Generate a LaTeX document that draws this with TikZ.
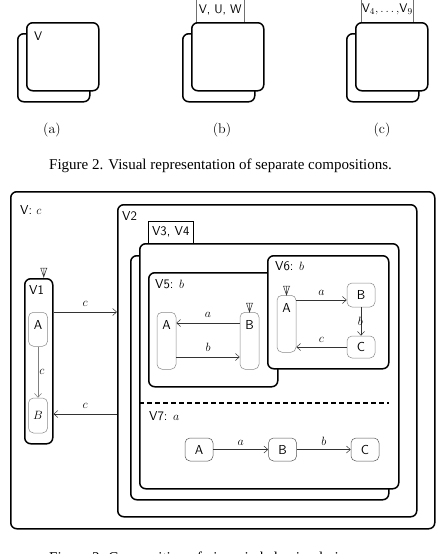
\documentclass[tikz,border=0pt]{standalone}
\usepackage{fontspec}
\newfontfamily\capfont{Liberation Serif}
\usetikzlibrary{arrows.meta, positioning, calc}
\definecolor{edgeA}{HTML}{333333}
\definecolor{stateA}{HTML}{8A8A8A}
\definecolor{stateB}{HTML}{555555}
\definecolor{tabA}{HTML}{707070}
\tikzset{
  view/.style={
    draw, fill=white, line width=1.5pt, rounded corners=6pt,
    anchor=north west, inner sep=0pt
  },
  state/.style={
    draw=stateA, fill=white, line width=0.5pt, rounded corners=5pt,
    inner sep=0pt, font=\sffamily\fontsize{13}{15}\selectfont
  },
  tallstate/.style={state, anchor=north, inner ysep=3pt, text height=14pt, text depth=#1},
  tab/.style={
    draw=tabA, line width=0.5pt, inner sep=0pt, anchor=south west,
    font=\sffamily\fontsize{12.5}{14}\selectfont
  },
  vlabel/.style={anchor=base west, inner sep=0pt, font=\sffamily\fontsize{13}{15}\selectfont},
  trans/.style={-{Straight Barb[length=4pt,width=7pt]}, line width=0.5pt, draw=edgeA},
  ev/.style={inner sep=1pt, font=\fontsize{13}{15}\selectfont},
  sep/.style={line width=2pt, dash pattern=on 5pt off 3pt},
  caption/.style={anchor=base west, inner sep=0pt, font=\capfont\fontsize{15}{18}\selectfont}
}
% initial marker: bar + open head ending at #1
\newcommand{\initmark}[1]{%
  \draw[line width=0.5pt, draw=edgeA] ($(#1)+(-3.5,-9)$) -- ($(#1)+(3.5,-9)$)
    ($(#1)+(0,-9)$) -- (#1)
    ($(#1)+(-3,-9)$) -- (#1) -- ($(#1)+(3,-9)$);}

\begin{document}
\begin{tikzpicture}[x=1pt, y=-1pt]
  \useasboundingbox (0,0) rectangle (436,554);

  % Figure 2: three separate compositions
  \node[view, minimum width=72pt, minimum height=68pt] (aback) at (17,33) {};
  \node[view, minimum width=72pt, minimum height=68pt] (afront) at (26,22) {};
  \node[vlabel, font=\sffamily\fontsize{12.5}{14}\selectfont] (alab) at (34,40) {V};

  \node[view, minimum width=72pt, minimum height=68pt] (bback) at (182,33) {};
  \node[tab, minimum width=48pt, minimum height=24pt] (btab) at (196,22) {V, U, W};
  \node[view, minimum width=72pt, minimum height=68pt] (bfront) at (191,22) {};

  \node[view, minimum width=72pt, minimum height=68pt] (cback) at (346,33) {};
  \node[tab, minimum width=52pt, minimum height=24pt] (ctab) at (361,22) {V$_4,\ldots,$V$_9$};
  \node[view, minimum width=72pt, minimum height=68pt] (cfront) at (355,22) {};

  \node[font=\fontsize{14}{16}\selectfont] (capa) at (52,130) {(a)};
  \node[font=\fontsize{14}{16}\selectfont] (capb) at (222,130) {(b)};
  \node[font=\fontsize{14}{16}\selectfont] (capc) at (382,130) {(c)};

  \node[caption] (fig2) at (49,169.5) {Figure 2. Visual representation of separate compositions.};

  % Figure 3: composition of views
  \node[view, minimum width=424pt, minimum height=337pt] (v) at (10,191) {};
  \node[vlabel] (vlab) at (20,214) {V: $c$};

  \node[view, minimum width=299pt, minimum height=312pt] (v2) at (117,204) {};
  \node[vlabel] (v2lab) at (122,220) {V2};

  \node[view, minimum width=258pt, minimum height=244pt] (v34back) at (130,255) {};
  \node[tab, draw=black, font=\sffamily\fontsize{13}{15}\selectfont,
    minimum width=45pt, minimum height=22pt] (v34tab) at (148,243) {V3, V4};
  \node[view, minimum width=259pt, minimum height=245pt] (v34) at (139,243) {};

  \node[view, minimum width=129pt, minimum height=114pt] (v5) at (148,272) {};
  \node[vlabel] (v5lab) at (155,288) {V5: $b$};
  \node[tallstate=37pt, minimum width=19pt] (v5a) at (166.5,312) {A};
  \node[tallstate=37pt, minimum width=19pt] (v5b) at (249.5,312) {B};

  \node[view, minimum width=121pt, minimum height=113pt] (v6) at (267,255) {};
  \node[vlabel] (v6lab) at (275,270) {V6: $b$};
  \node[tallstate=37pt, minimum width=19pt] (v6a) at (286.5,295) {A};
  \node[state, minimum width=28pt, minimum height=24pt] (v6b) at (361,295) {B};
  \node[state, minimum width=28pt, minimum height=22pt] (v6c) at (361,347) {C};

  \draw[sep] (139,403) -- (389,403);
  \node[vlabel] (v7lab) at (149,420) {V7: $a$};
  \node[state, draw=stateB, minimum width=28pt, minimum height=23pt] (v7a) at (199,449.5) {A};
  \node[state, draw=stateB, minimum width=28pt, minimum height=23pt] (v7b) at (282.5,449.5) {B};
  \node[state, draw=stateB, minimum width=28pt, minimum height=23pt] (v7c) at (365,449.5) {C};

  \node[view, minimum width=28pt, minimum height=165pt] (v1) at (24,278) {};
  \node[vlabel] (v1lab) at (29,294) {V1};
  \node[tallstate=14pt, minimum width=19pt] (v1a) at (38,312) {A};
  \node[state, minimum width=19pt, minimum height=35pt, font=\fontsize{13}{15}\selectfont] (v1b)
    at (38,415.5) {$B$};

  % transitions
  \draw[trans, draw=gray] (v1a) -- node[ev, right] {$c$} (v1b);
  \draw[trans] (v1.east |- 0,312) -- node[ev, above=4pt] {$c$} (v2.west |- 0,312);
  \draw[trans] (v2.west |- 0,414) -- node[ev, above=4pt] {$c$} (v1.east |- 0,414);

  \draw[trans] (v5b.west |- 0,323) -- node[ev, above=4pt] {$a$} (v5a.east |- 0,323);
  \draw[trans] (v5a.east |- 0,357) -- node[ev, above=4pt] {$b$} (v5b.west |- 0,357);

  \draw[trans] (v6a.east |- 0,300) -- node[ev, above=3pt] {$a$} (v6b.west |- 0,300);
  \draw[trans] (v6b) -- node[ev, left=-3pt] {$b$} (v6c);
  \draw[trans] (v6c) -- node[ev, above=3pt] {$c$} (v6a.east |- v6c);

  \draw[trans] (v7a) -- node[ev, above=3pt] {$a$} (v7b);
  \draw[trans] (v7b) -- node[ev, above=3pt] {$b$} (v7c);

  % initial markers
  \coordinate (v1init) at ($(v1.north)+(5,-1)$);
  \initmark{v1init}
  \initmark{v5b.north}
  \initmark{v6a.north}

  \node[caption] (fig3) at (49,562) {Figure 3. Composition of views in behavioral views.};
\end{tikzpicture}
\end{document}
